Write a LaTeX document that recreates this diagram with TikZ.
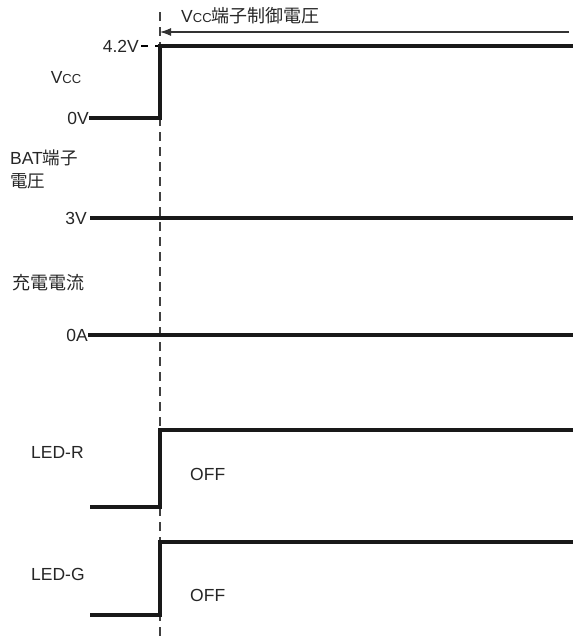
\documentclass[tikz,border=0pt]{standalone}
\usepackage{fontspec}
\setmainfont{Liberation Sans}
\newfontfamily\jpfont{Noto Sans CJK JP}
\usetikzlibrary{arrows.meta,positioning}
\newcommand\vccname{V{\fontsize{13}{15}\selectfont CC}}

\begin{document}
\begin{tikzpicture}[x=1pt, y=-1pt,
    wave/.style={line width=3.1pt, line join=miter, black!90},
    guide/.style={line width=1.2pt, dash pattern=on 9pt off 6pt, black!75},
    txt/.style={inner sep=0pt, font=\fontsize{17.5}{21}\selectfont, black!85},
    jtxt/.style={inner sep=0pt, font=\fontsize{17.5}{22}\selectfont, align=left, black!85}
]
\useasboundingbox (0,0) rectangle (573,638);

% time marker
\coordinate (ttop) at (160, 12);
\coordinate (tbot) at (160, 637);
\draw[guide] (ttop) -- (tbot);

\coordinate (arrowR) at (569, 32);
\coordinate (arrowL) at (160, 32);
\draw[-{Latex[length=11pt, width=8pt]}, line width=1.1pt, black!80] (arrowR) -- (arrowL);
\node[txt, anchor=south west] (ctrl) at (181, 24) {\vccname{\jpfont\fontsize{18}{20}\selectfont 端子制御電圧}};

% Vcc
\node[txt] (vcc) at (66, 78) {\vccname};
\node[txt, anchor=east] (hi42) at (139, 46) {4.2V};
\coordinate (dashL) at (141, 46);
\coordinate (dashR) at (148, 46);
\draw[line width=1.1pt] (dashL) -- (dashR);
\coordinate (tickL) at (155, 46);
\draw[line width=1.1pt] (tickL) -- ++(7,0);
\node[txt, anchor=east] (lo0v) at (89, 118) {0V};
\draw[wave] (lo0v.east) -- (160, 118) -- (160, 46) -- (573, 46);

% BAT voltage
\node[jtxt, anchor=west] (bat) at (10, 158) {BAT{\jpfont 端子}};
\node[jtxt, anchor=west] (batv) at (10, 181) {\jpfont 電圧};
\node[txt, anchor=east] (v3) at (87, 218) {3V};
\draw[wave] (v3.east) ++(3,0) -- (573, 218);

% charge current
\node[txt, anchor=west] (chg) at (12, 283) {\jpfont\fontsize{18}{20}\selectfont 充電電流};
\node[txt, anchor=east] (a0) at (88, 335) {0A};
\draw[wave] (a0.east) -- (573, 335);

% LED-R
\node[txt, anchor=west] (ledr) at (31, 452) {LED-R};
\node[txt, anchor=west] (offr) at (190, 474) {OFF};
\draw[wave] (90, 507) -- (160, 507) -- (160, 430) -- (573, 430);

% LED-G
\node[txt, anchor=west] (ledg) at (31, 574) {LED-G};
\node[txt, anchor=west] (offg) at (190, 595) {OFF};
\draw[wave] (90, 615) -- (160, 615) -- (160, 542) -- (573, 542);

\end{tikzpicture}
\end{document}
